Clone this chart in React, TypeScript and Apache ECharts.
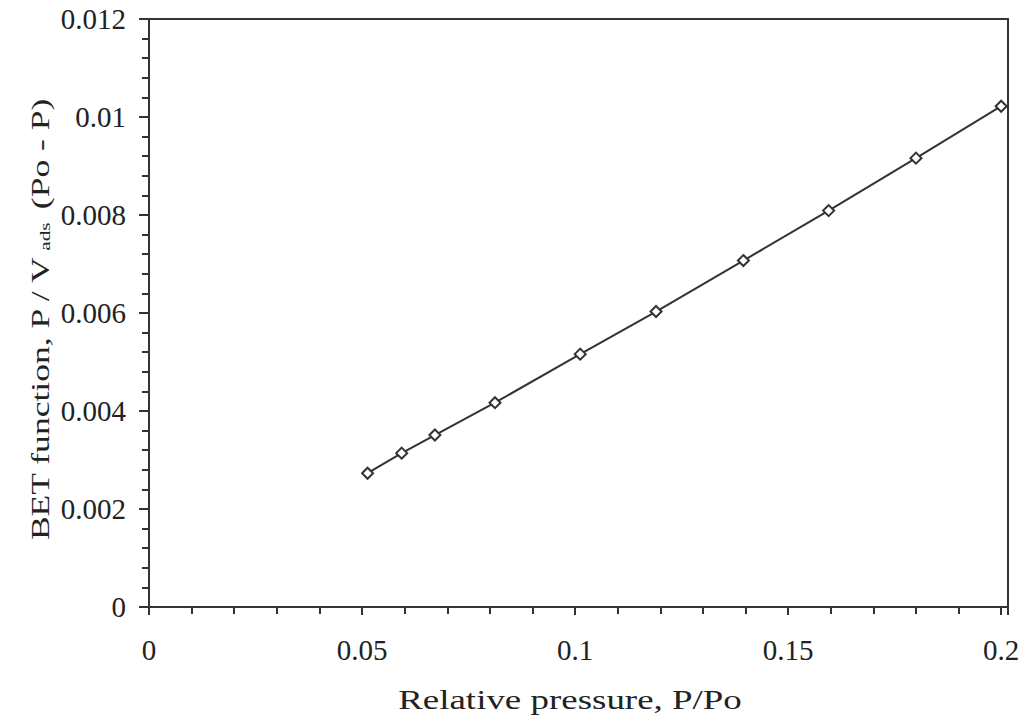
import React, { useEffect, useRef } from "react";
import * as echarts from "echarts";

const relPressure = [0.0513, 0.0593, 0.0671, 0.0812, 0.1012, 0.119, 0.1395, 0.1595, 0.18, 0.2];
const betValues = [0.00273, 0.00314, 0.00351, 0.00417, 0.00516, 0.00603, 0.00707, 0.00809, 0.00916, 0.01022];
const xTickLabels = ["0", "0.05", "0.1", "0.15", "0.2"];
const yTickLabels = ["0", "0.002", "0.004", "0.006", "0.008", "0.01", "0.012"];
const xTitle = "Relative pressure, P/Po";
const yTitleParts = ["BET function, P / V", "ads", " (Po - P)"];

const FONT = "'Liberation Serif', 'Times New Roman', serif";
const INK = "#333";
const TEXT = "#222";

function measure(text: string, size: number): number {
  const c = document.createElement("canvas").getContext("2d");
  if (!c) return text.length * size * 0.45;
  c.font = `${size}px "Liberation Serif"`;
  return c.measureText(text).width;
}

export default function App() {
  const ref = useRef<HTMLDivElement>(null);
  useEffect(() => {
    if (!ref.current) return;
    const chart = echarts.init(ref.current, undefined, { renderer: "svg" });
    const points = relPressure.map((x, i) => [x, betValues[i]]);
    const fmt = (labels: string[], step: number) => (v: number) => {
      const k = Math.round(v / step);
      if (Math.abs(v / step - k) > 1e-6) return "";
      return labels[k] ?? "";
    };
    const xTitleSize = 28;
    const yTitleSize = 25;
    const subSize = 15;
    const xTitleW = measure(xTitle, xTitleSize);
    const yTitleW =
      measure(yTitleParts[0], yTitleSize) + measure(" " + yTitleParts[1], subSize) + 3 + measure(yTitleParts[2], yTitleSize);
    chart.setOption({
      animation: false,
      backgroundColor: "#fff",
      grid: {
        left: 149,
        right: 16,
        top: 19,
        bottom: 112,
        show: true,
        borderColor: INK,
        borderWidth: 2,
        backgroundColor: "transparent",
      },
      graphic: [
        {
          type: "text",
          x: 570,
          y: 700,
          scaleX: 344 / xTitleW,
          style: {
            text: xTitle,
            fontFamily: FONT,
            fontSize: xTitleSize,
            fill: TEXT,
            align: "center",
            verticalAlign: "middle",
          },
        },
        {
          type: "text",
          x: 38,
          y: 320,
          rotation: Math.PI / 2,
          scaleX: 443 / yTitleW,
          style: {
            text: `{a|${yTitleParts[0]}}{s| ${yTitleParts[1]}}{a|${yTitleParts[2]}}`,
            fontFamily: FONT,
            fontSize: yTitleSize,
            fill: TEXT,
            align: "center",
            verticalAlign: "middle",
            rich: {
              a: { fontFamily: FONT, fontSize: yTitleSize, fill: TEXT, lineHeight: 30, verticalAlign: "bottom" },
              s: {
                fontFamily: FONT,
                fontSize: subSize,
                fill: TEXT,
                lineHeight: 30,
                verticalAlign: "bottom",
                padding: [0, 3, 0, 0],
              },
            },
          },
        },
      ],
      xAxis: {
        type: "value",
        min: 0,
        max: 0.2016,
        interval: 0.05,
        axisLine: { show: true, onZero: false, lineStyle: { color: INK, width: 2 } },
        axisTick: { show: true, length: 8, lineStyle: { color: INK, width: 2 } },
        minorTick: { show: true, splitNumber: 5, length: 7, lineStyle: { color: INK, width: 2 } },
        splitLine: { show: false },
        minorSplitLine: { show: false },
        axisLabel: {
          fontFamily: FONT,
          fontSize: 29,
          color: TEXT,
          margin: 28,
          formatter: fmt(xTickLabels, 0.05),
        },
      },
      yAxis: {
        type: "value",
        min: 0,
        max: 0.012,
        interval: 0.002,
        axisLine: { show: true, onZero: false, lineStyle: { color: INK, width: 2 } },
        axisTick: { show: true, length: 10, lineStyle: { color: INK, width: 2 } },
        minorTick: { show: true, splitNumber: 5, length: 7, lineStyle: { color: INK, width: 2 } },
        splitLine: { show: false },
        minorSplitLine: { show: false },
        axisLabel: {
          fontFamily: FONT,
          fontSize: 29,
          color: TEXT,
          margin: 23,
          formatter: fmt(yTickLabels, 0.002),
        },
      },
      series: [
        {
          type: "line",
          data: points,
          symbol: "diamond",
          symbolSize: 11,
          showSymbol: true,
          lineStyle: { color: INK, width: 2 },
          itemStyle: { color: "#fff", borderColor: INK, borderWidth: 2 },
        },
      ],
    });
    return () => chart.dispose();
  }, []);
  return <div ref={ref} style={{ width: 1024, height: 719, position: "absolute", left: 0, top: 0 }} />;
}
